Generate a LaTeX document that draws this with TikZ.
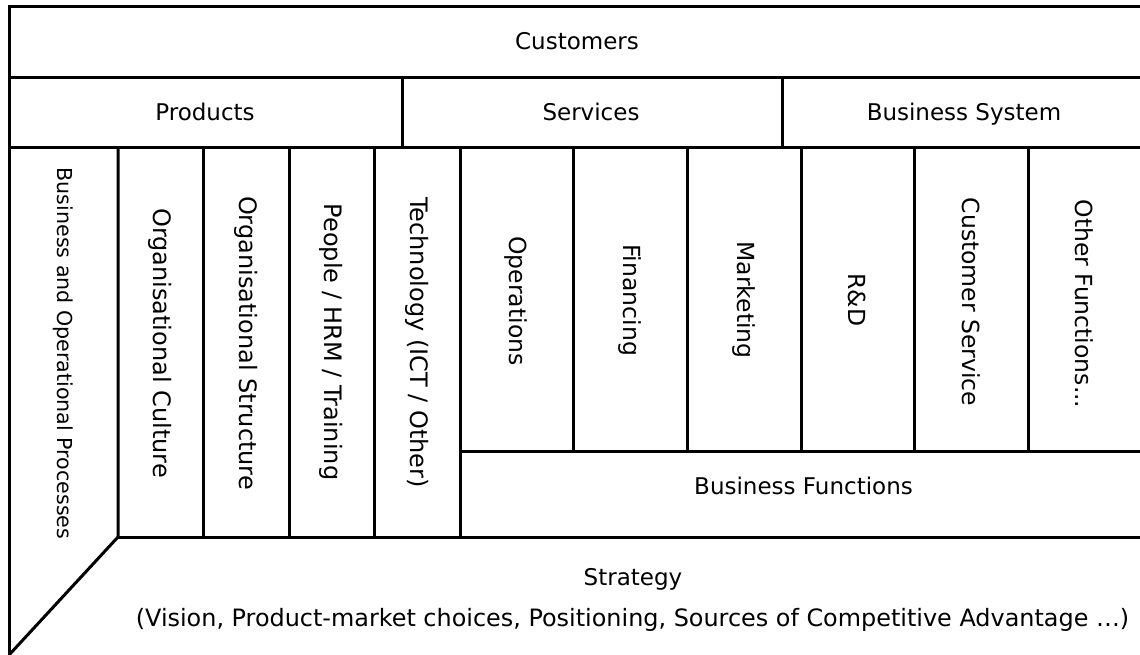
\documentclass[tikz,border=0pt]{standalone}
\usepackage{fontspec}
\setmainfont{DejaVu Sans}
\begin{document}
\begin{tikzpicture}[
x=1pt,y=-1pt,
line width=3pt,
every node/.style={inner sep=0pt,font=\fontsize{23}{27}\selectfont},
hlabel/.style={text height=17pt,text depth=6pt},
vlabel/.style={rotate=-90,font=\fontsize{24}{28}\selectfont},
funclabel/.style={rotate=-90,font=\fontsize{23.5}{27}\selectfont}
]
\useasboundingbox (0,0) rectangle (1140,655);
% rows
\draw (1140,7) -- (9,7) -- (9,655);
\draw (9,78) -- (1140,78);
\draw (9,148) -- (1140,148);
\draw (402,78) -- (402,148);
\draw (782,78) -- (782,148);
% left columns
\draw (9,655) -- (118,537) -- (118,148);
\draw (203,148) -- (203,537);
\draw (289,148) -- (289,537);
\draw (374,148) -- (374,537);
\draw (460,148) -- (460,537);
\draw (118,537) -- (1140,537);
% business functions
\draw (460,451) -- (1140,451);
\draw (573,148) -- (573,451);
\draw (687,148) -- (687,451);
\draw (801,148) -- (801,451);
\draw (914,148) -- (914,451);
\draw (1028,148) -- (1028,451);

\node[hlabel] (cust) at (577,44.5) {Customers};
\node[hlabel] (prod) at (205,115.5) {Products};
\node[hlabel] (serv) at (591,115.5) {Services};
\node[hlabel] (bsys) at (964,115.5) {Business System};

\node[vlabel,font=\fontsize{20.6}{24}\selectfont] (bop) at (63.5,353.5) {Business and Operational Processes};
\node[vlabel] (orgcult) at (160.5,343) {Organisational Culture};
\node[vlabel] (orgstruct) at (246,343) {Organisational Structure};
\node[vlabel] (people) at (331.5,342) {People / HRM / Training};
\node[vlabel] (tech) at (417,342.5) {Technology (ICT / Other)};

\node[funclabel] (ops) at (516,301) {Operations};
\node[funclabel] (fin) at (630,300) {Financing};
\node[funclabel] (mkt) at (744,300) {Marketing};
\node[funclabel] (rnd) at (857.5,300) {R\&D};
\node[funclabel] (cserv) at (971,302) {Customer Service};
\node[funclabel] (other) at (1084,304) {Other Functions...};

\node[hlabel] (bfunc) at (803.5,489) {Business Functions};
\node[hlabel] (strat) at (633,580) {Strategy};
\node[hlabel,font=\fontsize{23.9}{28}\selectfont,text height=17.7pt,text depth=6.2pt] (stratnote) at (632.5,621) {(Vision, Product-market choices, Positioning, Sources of Competitive Advantage …)};
\end{tikzpicture}
\end{document}
